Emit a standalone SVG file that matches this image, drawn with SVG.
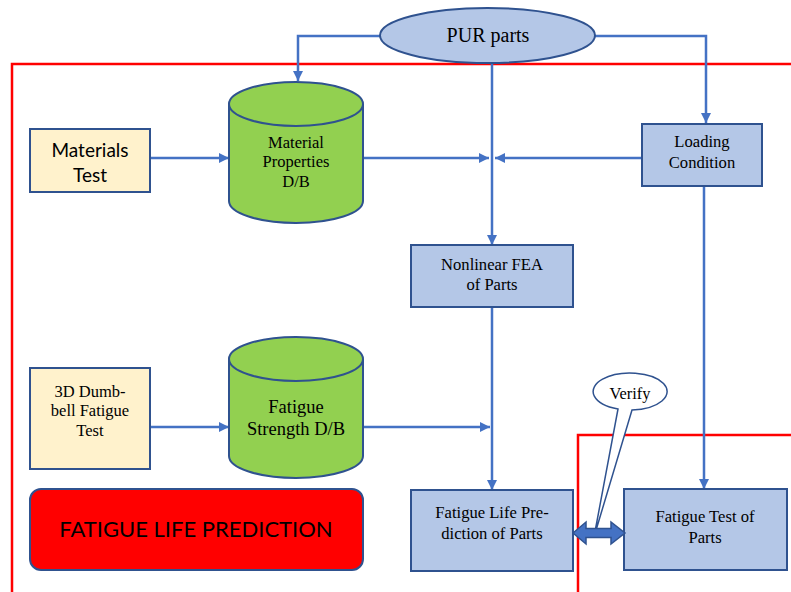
<svg xmlns="http://www.w3.org/2000/svg" width="791" height="592" viewBox="0 0 791 592">
<defs>
<marker id="ah" markerUnits="userSpaceOnUse" markerWidth="11" markerHeight="11" refX="10" refY="5" orient="auto">
<path d="M0,0 L10,5 L0,10 Z" fill="#4472C4"/>
</marker>
<style>
.frame{fill:none;stroke:#FF0000;stroke-width:2.5}
.con{fill:none;stroke:#4472C4;stroke-width:2.5;marker-end:url(#ah)}
.box{fill:#B4C7E7;stroke:#2F528F;stroke-width:2}
.tan{fill:#FFF2CC;stroke:#2F528F;stroke-width:2}
.cyl{fill:#92D050;stroke:#2F528F;stroke-width:2}
.tr{font-family:'Liberation Serif','Times New Roman',serif;fill:#000;text-anchor:middle}
.sa{font-family:Lato,'Liberation Sans',sans-serif;fill:#000;text-anchor:middle}
</style>
</defs>
<rect width="791" height="592" fill="#FFFFFF"/>
<g id="frames">
<path class="frame" d="M791,64 H12 V592"/>
<path class="frame" d="M791,435 H578 V592"/>
</g>
<g id="connectors">
<path class="con" d="M380,36 H298 V81"/>
<path class="con" d="M595,36 H706 V123"/>
<path class="con" d="M492,63 V245"/>
<path class="con" d="M150,158 H229"/>
<path class="con" d="M363,158 H489"/>
<path class="con" d="M642,158 H495"/>
<path class="con" d="M150,427 H229"/>
<path class="con" d="M363,427 H490"/>
<path class="con" d="M492,307 V490"/>
<path class="con" d="M704,186 V489"/>
</g>
<g id="pur">
<ellipse cx="487.5" cy="35.5" rx="107.5" ry="27.5" class="box"/>
<text x="488" y="42" class="tr" font-size="20">PUR parts</text>
</g>
<g id="materials-test">
<rect x="30" y="129" width="120" height="63" class="tan"/>
<text x="90" y="157" class="sa" font-size="19">Materials</text>
<text x="90" y="182" class="sa" font-size="19">Test</text>
</g>
<g id="material-db">
<path class="cyl" d="M229,104 V201 A67,22 0 0 0 363,201 V104"/>
<ellipse cx="296" cy="104" rx="67" ry="22" class="cyl"/>
<text x="296" y="148" class="tr" font-size="16.5">Material</text>
<text x="296" y="167" class="tr" font-size="16.5">Properties</text>
<text x="296" y="187" class="tr" font-size="16.5">D/B</text>
</g>
<g id="loading">
<rect x="642" y="124" width="120" height="62" class="box"/>
<text x="702" y="147" class="tr" font-size="16.6">Loading</text>
<text x="702" y="168" class="tr" font-size="16.6">Condition</text>
</g>
<g id="fea">
<rect x="411" y="245" width="162" height="62" class="box"/>
<text x="492" y="270" class="tr" font-size="16.6">Nonlinear FEA</text>
<text x="492" y="290" class="tr" font-size="16.6">of Parts</text>
</g>
<g id="dumbbell">
<rect x="30" y="368" width="120" height="101" class="tan"/>
<text x="90" y="397" class="tr" font-size="16.5">3D Dumb-</text>
<text x="90" y="416" class="tr" font-size="16.5">bell Fatigue</text>
<text x="90" y="436" class="tr" font-size="16.5">Test</text>
</g>
<g id="fatigue-db">
<path class="cyl" d="M229,359 V456 A67,22 0 0 0 363,456 V359"/>
<ellipse cx="296" cy="359" rx="67" ry="22" class="cyl"/>
<text x="296" y="413" class="tr" font-size="18.5">Fatigue</text>
<text x="296" y="435" class="tr" font-size="18.5">Strength D/B</text>
</g>
<g id="title">
<rect x="30" y="489" width="333" height="81" rx="11" fill="#FF0000" stroke="#2F528F" stroke-width="2"/>
<text x="196" y="537" class="sa" font-size="22">FATIGUE LIFE PREDICTION</text>
</g>
<g id="prediction">
<rect x="411" y="490" width="162" height="81" class="box"/>
<text x="492" y="518" class="tr" font-size="16.6">Fatigue Life Pre-</text>
<text x="492" y="539" class="tr" font-size="16.6">diction of Parts</text>
</g>
<g id="test-parts">
<rect x="624" y="489" width="163" height="81" class="box"/>
<text x="705" y="522" class="tr" font-size="16.6">Fatigue Test of</text>
<text x="705" y="543" class="tr" font-size="16.6">Parts</text>
</g>
<g id="verify">
<path d="M618,409 A37,18.5 0 1 1 632,410 L594,537 Z" fill="#FFFFFF" stroke="#2F528F" stroke-width="1.5"/>
<text x="630" y="399" class="tr" font-size="16.4">Verify</text>
</g>
<g id="double-arrow">
<path d="M573,533 L586,522 L586,528.5 L611,528.5 L611,522 L625,533 L611,544 L611,537.5 L586,537.5 L586,544 Z" fill="#4472C4" stroke="#2F528F" stroke-width="1.5"/>
</g>
</svg>
